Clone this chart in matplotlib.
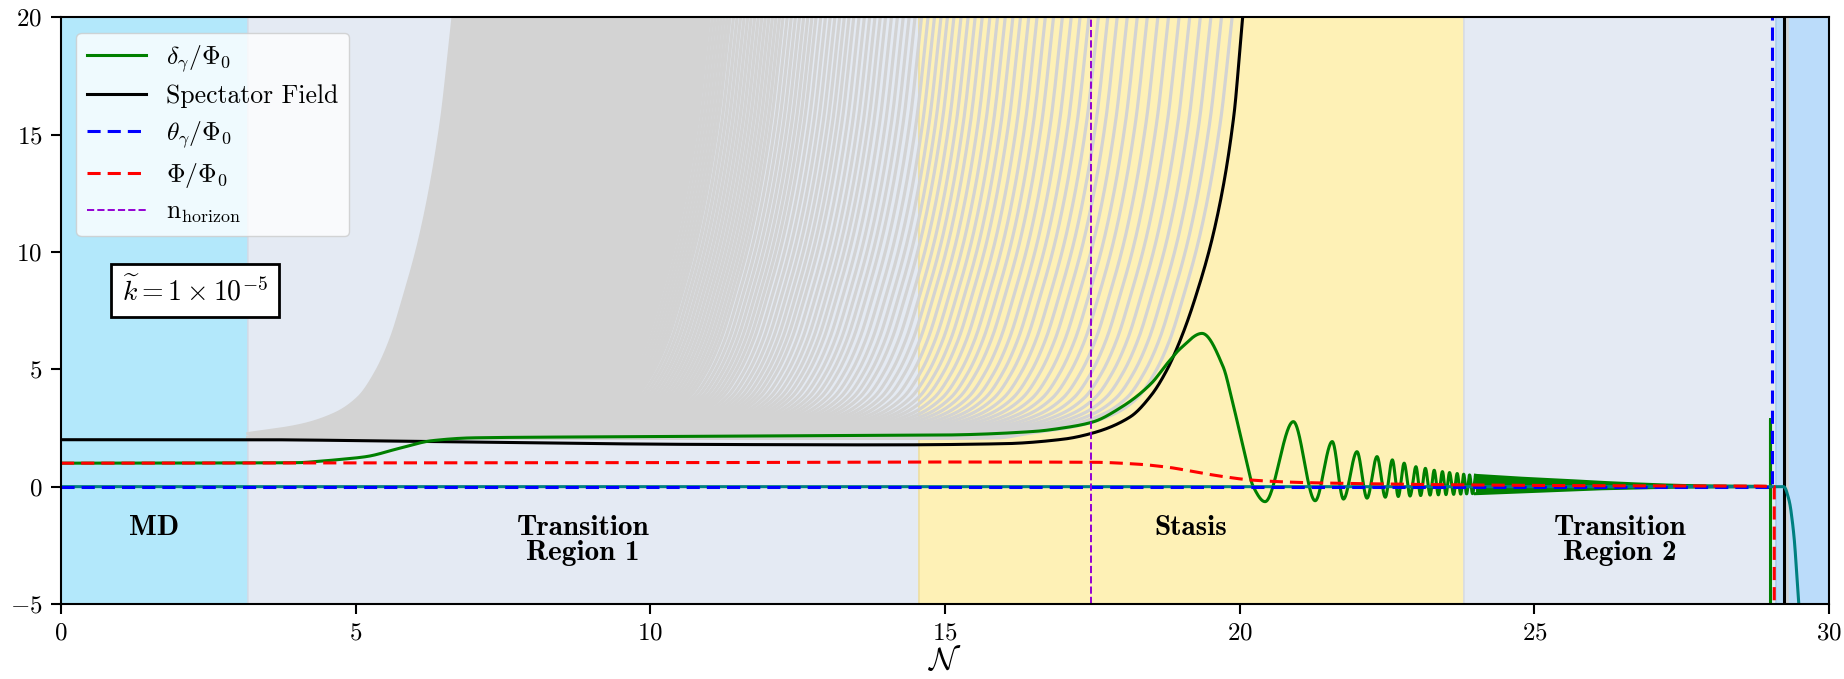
import numpy as np
import matplotlib.pyplot as plt

plt.rcParams['font.family'] = 'serif'
plt.rcParams['font.serif'] = ['cmr10']
plt.rcParams['mathtext.fontset'] = 'cm'
plt.rcParams['axes.formatter.use_mathtext'] = True

# %% Read-off curve data
# region boundaries in N
region_edges = [0.0, 3.17, 14.55, 23.8, 29.1, 30.0]
region_colors = ['#b3e8fb', '#e4eaf3', '#fef1b6', '#e4eaf3', '#bbdcfa']
region_edgecolors = ['#9fd3ee', '#d7dde8', '#efe0a0', '#d7dde8', '#a9cdef']
region_labels = ['MD', 'Transition\nRegion 1', 'Stasis', 'Transition\nRegion 2', '']

# spectator field (black)
black_n = [0.0, 3.2, 6.0, 10.8, 14.0, 16.0, 17.0, 17.5, 18.14, 18.5, 18.77, 19.0, 19.24, 19.6, 19.9, 20.05, 20.35]
black_v = [2.0, 2.0, 1.93, 1.8, 1.78, 1.83, 2.02, 2.28, 2.97, 3.9, 5.0, 6.3, 8.0, 11.3, 15.8, 20.0, 27.0]
black_end_n = 29.23

# shape of one grey mode, relative to where it leaves the top of the plot
gray_dn = [-30.0, -4.0, -3.45, -2.6, -2.0, -1.6, -1.3, -1.05, -0.85, -0.52, -0.2, 0.0, 0.3]
gray_v = [2.05, 2.08, 2.27, 2.6, 3.1, 3.8, 4.9, 6.3, 7.9, 11.0, 15.5, 20.0, 27.0]
gray_start = 3.17
gray_solid = (6.65, 11.0)  # dense part, drawn as one filled band
gray_exits = [11.05, 11.1, 11.15, 11.2, 11.25, 11.3, 11.35, 11.41, 11.47, 11.53, 11.59,
              11.65, 11.71, 11.77, 11.83, 11.89, 11.95, 12.01, 12.07, 12.13, 12.19,
              12.25, 12.32, 12.39, 12.46, 12.53, 12.6, 12.67, 12.74, 12.81, 12.89,
              12.97, 13.05, 13.13, 13.21, 13.29, 13.37, 13.45, 13.54, 13.63, 13.72,
              13.81, 13.9, 13.99, 14.09, 14.19, 14.29, 14.39, 14.49, 14.6, 14.71,
              14.82, 14.93, 15.04, 15.15, 15.27, 15.39, 15.51, 15.63, 15.76, 15.89,
              16.02, 16.15, 16.28, 16.42, 16.56, 16.7, 16.84, 16.99, 17.14, 17.29,
              17.44, 17.6, 17.76, 17.92, 18.09, 18.26, 18.43, 18.61, 18.79, 18.97,
              19.15, 19.33, 19.51, 19.69, 19.87]

# delta_gamma (green): smooth rise, then oscillation extrema
green_n = [0.0, 4.0, 4.33, 4.7, 5.18, 5.75, 6.3, 7.0, 9.0, 12.0, 15.0, 16.5, 17.0, 17.5,
           18.0, 18.5, 18.77, 19.0, 19.36, 19.72, 19.87, 20.07, 20.23,
           20.43, 20.91, 21.28, 21.57, 21.76, 21.99, 22.16, 22.33, 22.47, 22.59,
           22.69, 22.79, 22.89, 22.99, 23.07, 23.15, 23.23, 23.3, 23.37, 23.44,
           23.5, 23.56, 23.63, 23.69, 23.75, 23.8, 23.85, 23.9, 23.95, 24.0]
green_v = [1.0, 1.02, 1.07, 1.15, 1.28, 1.64, 1.96, 2.08, 2.12, 2.16, 2.2, 2.35, 2.5, 2.75,
           3.4, 4.4, 5.25, 5.9, 6.53, 5.1, 3.69, 1.56, 0.0,
           -0.64, 2.77, -0.6, 1.92, -0.53, 1.49, -0.49, 1.28, -0.45, 1.14,
           -0.42, 1.0, -0.4, 0.85, -0.38, 0.78, -0.36, 0.7, -0.35, 0.64,
           -0.34, 0.6, -0.33, 0.56, -0.32, 0.53, -0.31, 0.5, -0.3, 0.48]
# unresolved fast oscillations: upper / lower envelope
band_n = [24.0, 24.5, 25.0, 25.5, 26.0, 26.5, 27.0, 27.5, 28.0, 28.9]
band_hi = [0.48, 0.4, 0.33, 0.27, 0.2, 0.14, 0.09, 0.05, 0.03, 0.01]
band_lo = [-0.3, -0.25, -0.2, -0.15, -0.1, -0.07, -0.04, -0.02, -0.01, 0.0]
green_spike_n = 29.0
green_spike_top = 2.9

# Phi / Phi_0 (red)
red_n = [0.0, 10.0, 15.0, 17.5, 18.2, 18.8, 19.3, 19.8, 20.2, 21.0, 22.0, 24.0, 26.0, 28.9, 29.07]
red_v = [1.0, 1.02, 1.05, 1.04, 0.97, 0.82, 0.6, 0.4, 0.28, 0.18, 0.13, 0.07, 0.04, 0.02, 0.0]

# theta_gamma (blue) and the teal branch underneath it
blue_end_n = 29.04
teal_n = [0.0, 29.23, 29.32, 29.4, 29.48, 29.5]
teal_v = [0.0, 0.0, -0.57, -2.0, -4.8, -5.5]

n_horizon = 17.48


def pchip(x, y, xq):
    x = np.asarray(x, float)
    y = np.asarray(y, float)
    xq = np.clip(np.asarray(xq, float), x[0], x[-1])
    h = np.diff(x)
    d = np.diff(y) / h
    m = np.zeros_like(y)
    for k in range(1, len(x) - 1):
        if d[k-1] * d[k] > 0:
            w1 = 2*h[k] + h[k-1]
            w2 = h[k] + 2*h[k-1]
            m[k] = (w1 + w2) / (w1/d[k-1] + w2/d[k])
    m[0] = d[0]
    m[-1] = d[-1]
    i = np.clip(np.searchsorted(x, xq) - 1, 0, len(x) - 2)
    t = (xq - x[i]) / h[i]
    h00 = 2*t**3 - 3*t**2 + 1
    h10 = t**3 - 2*t**2 + t
    h01 = -2*t**3 + 3*t**2
    h11 = t**3 - t**2
    return h00*y[i] + h10*h[i]*m[i] + h01*y[i+1] + h11*h[i]*m[i+1]


# %% Plot
fig = plt.figure(figsize=(18.44, 6.79), dpi=100)
ax = fig.add_axes([0.0331, 0.1105, 0.9588, 0.864])

for i in range(len(region_colors)):
    ax.axvspan(region_edges[i], region_edges[i+1], facecolor=region_colors[i],
               edgecolor=region_edgecolors[i], lw=1.2, zorder=0)
    if region_labels[i]:
        ax.text(0.5*(region_edges[i] + region_edges[i+1]), -1.2, region_labels[i],
                ha='center', va='top', fontsize=21, fontname='cmb10',
                linespacing=0.95, zorder=8)

# grey family of modes
gcol = '#d3d3d3'
nn = np.linspace(gray_start, gray_solid[1] + 0.4, 1500)
up = pchip(gray_dn, gray_v, nn - gray_solid[0])
lo = pchip(gray_dn, gray_v, nn - gray_solid[1])
ax.fill_between(nn, lo, up, color=gcol, lw=0, zorder=1)
for e in list(gray_solid) + gray_exits:
    nn = np.linspace(gray_start, e + 0.3, 600)
    ax.plot(nn, pchip(gray_dn, gray_v, nn - e), color=gcol, lw=2.3, zorder=1)
ax.plot([black_end_n + 0.05]*2, [-6, 25], color=gcol, lw=1.8, zorder=1)

# spectator field
nn = np.linspace(black_n[0], black_n[-1], 2000)
l_black, = ax.plot(nn, pchip(black_n, black_v, nn), color='black', lw=2.2, zorder=3,
                   label='Spectator Field')
ax.plot([black_end_n]*2, [-6, 25], color='black', lw=2.2, zorder=3)

# delta_gamma
nn = np.linspace(green_n[0], green_n[-1], 6000)
l_green, = ax.plot(nn, pchip(green_n, green_v, nn), color='green', lw=2.2, zorder=4,
                   label=r'$\delta_\gamma/\Phi_0$')
nn = np.linspace(band_n[0], band_n[-1], 800)
hi = pchip(band_n, band_hi, nn)
lo = pchip(band_n, band_lo, nn)
ax.fill_between(nn, lo, hi, color='green', lw=0, zorder=4)
ax.plot(nn, hi, color='green', lw=2.2, zorder=4)
ax.plot(nn, lo, color='green', lw=2.2, zorder=4)
ax.plot([band_n[-1], green_spike_n, green_spike_n, green_spike_n],
        [0, 0, green_spike_top, -6], color='green', lw=2.2, zorder=4)

# teal branch under theta_gamma
nn = np.linspace(teal_n[0], teal_n[-1], 2000)
ax.plot(nn, pchip(teal_n, teal_v, nn), color='teal', lw=2.2, zorder=4.5)

# theta_gamma
l_blue, = ax.plot([0, blue_end_n, blue_end_n], [0, 0, 25], color='blue', lw=2.2,
                  ls=(0, (4.3, 2.3)), zorder=5, label=r'$\theta_\gamma/\Phi_0$')

# Phi / Phi_0
nn = np.linspace(red_n[0], red_n[-1], 2000)
rv = pchip(red_n, red_v, nn)
l_red, = ax.plot(np.append(nn, red_n[-1]), np.append(rv, -6), color='red', lw=2.2,
                 ls=(0, (4.3, 2.3)), zorder=6, label=r'$\Phi/\Phi_0$')

l_hor = ax.axvline(n_horizon, color='darkviolet', lw=1.4, ls='--', zorder=7,
                   label=r'$\mathrm{n}_{\mathrm{horizon}}$')

ax.text(0.0758, 0.534, r'$\widetilde{k} = 1 \times 10^{-5}$', transform=ax.transAxes,
        ha='center', va='center', fontsize=20, zorder=9,
        bbox=dict(boxstyle='square,pad=0.4', fc='white', ec='black', lw=2))

ax.legend(handles=[l_green, l_black, l_blue, l_red, l_hor], loc='upper left',
          fontsize=18.5, handlelength=2.3, labelspacing=0.42, framealpha=0.8,
          borderaxespad=0.6)

ax.set_xlim(0, 30)
ax.set_ylim(-5, 20)
ax.set_xticks([0, 5, 10, 15, 20, 25, 30])
ax.set_yticks([-5, 0, 5, 10, 15, 20])
ax.tick_params(direction='out', length=7, width=1.5, labelsize=18, pad=6.5)
for s in ax.spines.values():
    s.set_linewidth(1.5)
    s.set_zorder(10)
ax.set_xlabel(r'$\mathcal{N}$', fontsize=23, labelpad=0)

fig.savefig('out.png', dpi=100)
